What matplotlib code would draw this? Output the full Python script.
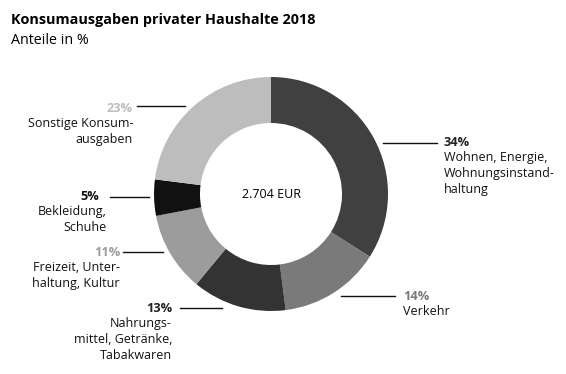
import matplotlib.pyplot as plt

plt.rcParams['font.family'] = ['Open Sans', 'DejaVu Sans']

# data
shares = [34, 14, 13, 11, 5, 23]
pcts = ['34%', '14%', '13%', '11%', '5%', '23%']
names = ['Wohnen, Energie,\nWohnungsinstand-\nhaltung',
         'Verkehr',
         'Nahrungs-\nmittel, Getränke,\nTabakwaren',
         'Freizeit, Unter-\nhaltung, Kultur',
         'Bekleidung,\nSchuhe',
         'Sonstige Konsum-\nausgaben']
colors = ['#404040', '#7a7a7a', '#333333', '#9c9c9c', '#111111', '#bdbdbd']
total = '2.704 EUR'

W, H = 566, 374
fig = plt.figure(figsize=(W/100, H/100), dpi=100)

def fx(x): return x / W
def fy(y): return 1 - y / H

# donut
cx, cy, r = 271, 194, 117
ax = fig.add_axes([fx(cx - r), fy(cy + r), 2*r/W, 2*r/H])
ax.pie(shares, colors=colors, startangle=90, counterclock=False,
       wedgeprops=dict(width=46/117, linewidth=0))
ax.set_xlim(-1, 1)
ax.set_ylim(-1, 1)
ax.set_aspect('equal')
ax.axis('off')

fig.text(fx(cx), fy(cy), total, ha='center', va='center', fontsize=9)

# titles
fig.text(fx(11), fy(20), 'Konsumausgaben privater Haushalte 2018',
         fontsize=10.4, fontweight='bold', va='center')
fig.text(fx(11), fy(40), 'Anteile in %', fontsize=10.3, va='center')

# label layout: (x of pct, x of name, y of pct, ha, line x0, line x1, line y)
layout = [
   (444, 444, 143, 'left', 383, 437, 143),
   (403, 403, 297, 'left', 341, 395, 296),
   (172, 172, 309, 'right', 180, 222, 308),
   (120, 120, 253, 'right', 123, 163, 252),
   (99, 107, 197, 'right', 110, 149, 197),
   (133, 133, 109, 'right', 137, 185, 106),
]
pct_cols = ['#222222', '#7a7a7a', '#222222', '#9c9c9c', '#111111', '#bdbdbd']

for (px, nx, ty, ha, x0, x1, ly), p, n, c in zip(layout, pcts, names, pct_cols):
   fig.add_artist(plt.Line2D([fx(x0), fx(x1)], [fy(ly), fy(ly)],
                             color='#111111', linewidth=1))
   fig.text(fx(px), fy(ty), p, ha=ha, va='center', fontsize=9.2,
            fontweight='bold', color=c)
   fig.text(fx(nx), fy(ty + 8), n, ha=ha, va='top', fontsize=9,
            linespacing=1.28, multialignment=ha, color='#111111')

fig.savefig('out.png', dpi=100)
